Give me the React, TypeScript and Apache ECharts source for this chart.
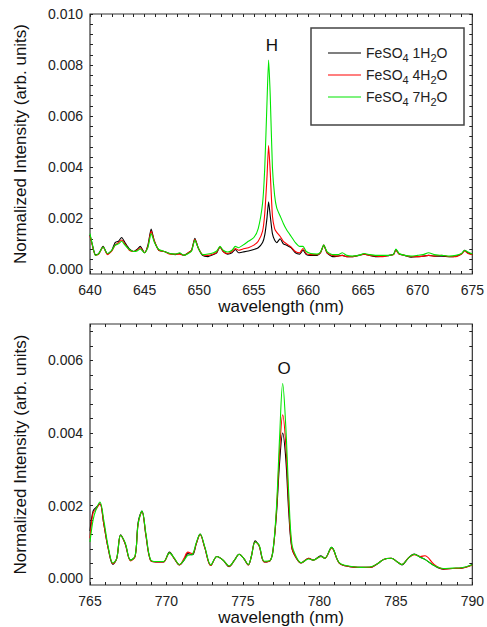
import React, { useEffect, useRef } from "react";
import * as echarts from "echarts";

// ---------- Top panel (H line) ----------
const topWavelengths = [
  640.0, 640.2, 640.5, 640.8, 641.2, 641.6, 642.0, 642.3, 642.6, 642.9,
  643.2, 643.6, 644.0, 644.3, 644.6, 645.0, 645.3, 645.6, 645.9, 646.3,
  646.8, 647.3, 647.8, 648.2, 648.6, 649.0, 649.3, 649.6, 649.9, 650.3,
  650.8, 651.3, 651.6, 651.9, 652.2, 652.6, 653.0, 653.3, 653.6, 654.0,
  654.5, 655.0, 655.4, 655.8, 656.0, 656.2, 656.35, 656.5, 656.7, 656.9,
  657.1, 657.4, 657.7, 658.0, 658.4, 658.8, 659.2, 659.5, 659.8, 660.2,
  660.8, 661.1, 661.4, 661.7, 662.2, 662.7, 663.1, 663.5, 664.0, 664.6,
  665.1, 665.6, 666.2, 666.8, 667.4, 667.8, 668.0, 668.3, 668.8, 669.4,
  670.0, 670.5, 671.0, 671.5, 672.2, 672.9, 673.5, 674.0, 674.3, 674.6,
  675.0,
];
const topMono = [
  0.00135, 0.0010, 0.00058, 0.00062, 0.0009, 0.0006, 0.00075, 0.00105, 0.0011, 0.00125,
  0.00105, 0.0008, 0.0007, 0.00078, 0.0009, 0.00065, 0.00095, 0.00158, 0.0011, 0.00075,
  0.0007, 0.00062, 0.00058, 0.00062, 0.00055, 0.00065, 0.00075, 0.00122, 0.00085, 0.00055,
  0.0005, 0.00058, 0.00065, 0.00088, 0.0007, 0.0006, 0.00065, 0.00078, 0.00065, 0.00068,
  0.00072, 0.00078, 0.00085, 0.00105, 0.00135, 0.002, 0.00265, 0.0021, 0.0014, 0.00115,
  0.00105, 0.0012, 0.001, 0.00095, 0.00085, 0.00065, 0.0006, 0.00075, 0.00058, 0.00055,
  0.00055, 0.00065, 0.00095, 0.00065, 0.0005, 0.00052, 0.00055, 0.0005, 0.0005, 0.00055,
  0.0006, 0.00055, 0.0005, 0.00052, 0.00055, 0.0006, 0.00078, 0.0006, 0.00055, 0.00048,
  0.0005, 0.00052, 0.00055, 0.00052, 0.00052, 0.0005, 0.00052, 0.0006, 0.00075, 0.00065,
  0.00058,
];
const topTetra = [
  0.0013, 0.00095, 0.00055, 0.0006, 0.00088, 0.00058, 0.00072, 0.00095, 0.00105, 0.00115,
  0.001, 0.00075, 0.0007, 0.00075, 0.00085, 0.00065, 0.0009, 0.0015, 0.0011, 0.00075,
  0.0007, 0.0006, 0.0006, 0.0006, 0.00055, 0.00065, 0.00075, 0.00118, 0.00085, 0.00058,
  0.00055, 0.0006, 0.00068, 0.00088, 0.0007, 0.00062, 0.0007, 0.00082, 0.00075, 0.0008,
  0.00085, 0.00095, 0.0011, 0.0015, 0.0022, 0.0036, 0.00485, 0.0038, 0.0021, 0.0016,
  0.00145, 0.0013, 0.0011, 0.001, 0.00088, 0.0007, 0.00065, 0.00082, 0.00062, 0.00058,
  0.00058, 0.00065, 0.00095, 0.00065, 0.00055, 0.00052, 0.00055, 0.0005, 0.0005, 0.00055,
  0.0006, 0.00055, 0.00052, 0.0005, 0.00055, 0.00058, 0.00075, 0.0006, 0.00055, 0.0005,
  0.0005, 0.00052, 0.00055, 0.00052, 0.00055, 0.0005, 0.0005, 0.0006, 0.00072, 0.00062,
  0.00058,
];
const topHepta = [
  0.0014, 0.001, 0.00055, 0.00062, 0.00088, 0.00062, 0.00075, 0.00095, 0.001, 0.0011,
  0.00095, 0.00078, 0.0007, 0.00072, 0.0008, 0.00065, 0.00085, 0.0014, 0.00105, 0.00078,
  0.0007, 0.00062, 0.0006, 0.00065, 0.00055, 0.00062, 0.00072, 0.00115, 0.00085, 0.00058,
  0.0006, 0.00065, 0.00072, 0.0009, 0.00075, 0.00068, 0.00075, 0.0009, 0.00085, 0.00095,
  0.0011, 0.00125, 0.0016, 0.0026, 0.004, 0.0065, 0.0082, 0.0068, 0.004, 0.0029,
  0.0024, 0.0021, 0.0018, 0.00155, 0.0013, 0.00105, 0.0009, 0.0009, 0.0007, 0.00062,
  0.0006, 0.00068, 0.00095, 0.0007, 0.00058, 0.00058, 0.00065, 0.00055, 0.00052, 0.00055,
  0.00062, 0.00058, 0.00055, 0.00055, 0.00055, 0.0006, 0.0008, 0.00062, 0.00055, 0.00052,
  0.00055, 0.00058, 0.00065, 0.00058, 0.00055, 0.00052, 0.00055, 0.00062, 0.00075, 0.00068,
  0.0006,
];

// ---------- Bottom panel (O line) ----------
const botWavelengths = [
  765.0, 765.2, 765.4, 765.65, 765.9, 766.2, 766.5, 766.75, 767.0, 767.3,
  767.65, 767.95, 768.15, 768.4, 768.65, 768.95, 769.3, 769.8, 770.2, 770.5,
  770.85, 771.15, 771.4, 771.7, 771.95, 772.2, 772.5, 772.9, 773.3, 773.7,
  774.1, 774.45, 774.75, 775.05, 775.35, 775.55, 775.8, 776.05, 776.4, 776.8,
  777.0, 777.2, 777.4, 777.6, 777.8, 778.0, 778.2, 778.5, 778.8, 779.3,
  779.6, 780.1, 780.35, 780.8, 781.3, 782.0, 782.7, 783.3, 783.8, 784.2,
  784.7, 785.1, 785.4, 785.8, 786.2, 786.6, 786.9, 787.5, 788.1, 788.7,
  789.3, 790.0,
];
const botMono = [
  0.0013, 0.00185, 0.00195, 0.00205, 0.0015, 0.0008, 0.00038, 0.00055, 0.0012, 0.00095,
  0.0005, 0.0006, 0.00155, 0.00185, 0.0012, 0.0005, 0.00045, 0.00045, 0.00072, 0.00055,
  0.00037, 0.0005, 0.00068, 0.00065, 0.00095, 0.00122, 0.00085, 0.00035, 0.0006, 0.0005,
  0.00032, 0.0005, 0.00066, 0.00055, 0.00037, 0.0006, 0.00103, 0.0009, 0.00045, 0.0005,
  0.00088, 0.0018, 0.0032, 0.004, 0.0033, 0.0018, 0.00083, 0.00055, 0.00042, 0.00055,
  0.0005, 0.00062, 0.00055, 0.00085, 0.00042, 0.00032, 0.0003, 0.0003, 0.0004, 0.00052,
  0.00055, 0.00045, 0.00037, 0.00055, 0.00067, 0.00058, 0.00052, 0.00035, 0.00025, 0.00027,
  0.00028, 0.00038,
];
const botTetra = [
  0.0011, 0.0018, 0.0019, 0.00205, 0.0015, 0.0008, 0.0004, 0.00055, 0.00118, 0.00095,
  0.00048, 0.0006, 0.0015, 0.00183, 0.0012, 0.0005, 0.00045, 0.00045, 0.0007, 0.00055,
  0.00037, 0.00055, 0.00072, 0.00068, 0.00095, 0.0012, 0.00085, 0.00035, 0.0006, 0.0005,
  0.00033, 0.0005, 0.00066, 0.00055, 0.00037, 0.0006, 0.001, 0.0009, 0.00045, 0.0005,
  0.00088, 0.0019, 0.0035, 0.0045, 0.0037, 0.002, 0.00085, 0.00055, 0.00042, 0.00055,
  0.0005, 0.0006, 0.00055, 0.00083, 0.00042, 0.00032, 0.0003, 0.0003, 0.0004, 0.00052,
  0.00055, 0.00045, 0.00038, 0.00055, 0.00065, 0.0006, 0.00062, 0.00038, 0.00026, 0.00027,
  0.00028, 0.00036,
];
const botHepta = [
  0.001, 0.0016, 0.0019, 0.0021, 0.0016, 0.00085, 0.00042, 0.00055, 0.00118, 0.00098,
  0.0005, 0.00062, 0.0015, 0.00185, 0.00125, 0.00052, 0.00046, 0.00046, 0.0007, 0.00056,
  0.00038, 0.0005, 0.00063, 0.00066, 0.00098, 0.00122, 0.00088, 0.00037, 0.0006, 0.0005,
  0.00034, 0.0005, 0.00066, 0.00055, 0.00038, 0.0006, 0.001, 0.00092, 0.00047, 0.0005,
  0.0009, 0.002, 0.0039, 0.00536, 0.0042, 0.0023, 0.00095, 0.00058, 0.00043, 0.00053,
  0.0005, 0.0006, 0.00055, 0.00085, 0.00043, 0.00033, 0.0003, 0.00031, 0.0004, 0.00052,
  0.00055, 0.00045, 0.00038, 0.00055, 0.00066, 0.00058, 0.00052, 0.00035, 0.00027, 0.00028,
  0.00029, 0.00037,
];

// ---------- Axes / labels ----------
const topXLabels = [640, 645, 650, 655, 660, 665, 670, 675];
const botXLabels = [765, 770, 775, 780, 785, 790];
const topYLabels = [0, 0.002, 0.004, 0.006, 0.008, 0.01];
const botYLabels = [0, 0.002, 0.004, 0.006];
const seriesNames = ["FeSO4 1H2O", "FeSO4 4H2O", "FeSO4 7H2O"];
const seriesColors = ["#000000", "#ff0000", "#00e600"];
const legendRich: Record<string, string> = {
  "FeSO4 1H2O": "{n|FeSO}{s|4}{n| 1H}{s|2}{n|O}",
  "FeSO4 4H2O": "{n|FeSO}{s|4}{n| 4H}{s|2}{n|O}",
  "FeSO4 7H2O": "{n|FeSO}{s|4}{n| 7H}{s|2}{n|O}",
};

const FONT = "'Liberation Sans', Arial, Helvetica, sans-serif";

function range(a: number, b: number, step: number): number[] {
  const out: number[] = [];
  for (let v = a; v <= b + step * 1e-6; v += step) out.push(Math.round(v * 1e6) / 1e6);
  return out;
}

export default function App() {
  const ref = useRef<HTMLDivElement>(null);
  useEffect(() => {
    if (!ref.current) return;
    const chart = echarts.init(ref.current, undefined, { renderer: "svg" });

    const tick = (vals: number[]) => ({
      show: true,
      inside: true,
      length: 3,
      customValues: vals,
      lineStyle: { color: "#222", width: 1 },
    });
    const labelStyle = { fontSize: 14, color: "#222", fontFamily: FONT };

    const mkX = (gridIndex: number, min: number, max: number, labels: number[], bottom: boolean) => ({
      type: "value",
      gridIndex,
      min,
      max,
      position: bottom ? "bottom" : "top",
      axisLine: { show: false, onZero: false },
      axisTick: tick(range(min, max, 1)),
      splitLine: { show: false },
      axisLabel: bottom
        ? { show: true, customValues: labels, margin: 9, ...labelStyle, formatter: (v: number) => String(v) }
        : { show: false },
      name: bottom ? "wavelength (nm)" : "",
      nameLocation: "middle",
      nameGap: 24,
      nameTextStyle: { fontSize: 17, color: "#111", fontFamily: FONT },
    });
    const mkY = (gridIndex: number, min: number, max: number, labels: number[], left: boolean) => ({
      type: "value",
      gridIndex,
      min,
      max,
      position: left ? "left" : "right",
      axisLine: { show: false, onZero: false },
      axisTick: tick(range(0, max, 0.0004)),
      splitLine: { show: false },
      axisLabel: left
        ? { show: true, customValues: labels, margin: 7, ...labelStyle, formatter: (v: number) => v.toFixed(3) }
        : { show: false },
      name: left ? "Normalized Intensity (arb. units)" : "",
      nameLocation: "middle",
      nameGap: 61,
      nameTextStyle: { fontSize: 17, color: "#111", fontFamily: FONT },
    });

    const mkSeries = (xi: number, wl: number[], vals: number[], k: number, smooth: number) => ({
      type: "line",
      name: seriesNames[k],
      xAxisIndex: xi,
      yAxisIndex: xi,
      data: wl.map((w, i) => [w, vals[i]]),
      symbol: "none",
      showSymbol: false,
      smooth,
      lineStyle: { width: 1.1, color: seriesColors[k] },
      itemStyle: { color: seriesColors[k] },
      z: 2 + k,
    });

    const topMin = -0.00018;
    const botMin = -0.000185;

    chart.setOption({
      animation: false,
      backgroundColor: "#ffffff",
      grid: [
        { left: 90, top: 14, width: 384, height: 260, show: true, borderColor: "#333", borderWidth: 1.2, backgroundColor: "transparent" },
        { left: 90, top: 324, width: 384, height: 261, show: true, borderColor: "#333", borderWidth: 1.2, backgroundColor: "transparent" },
      ],
      xAxis: [
        mkX(0, 640, 675, topXLabels, true),
        mkX(0, 640, 675, topXLabels, false),
        mkX(1, 765, 790, botXLabels, true),
        mkX(1, 765, 790, botXLabels, false),
      ],
      yAxis: [
        mkY(0, topMin, 0.01, topYLabels, true),
        mkY(0, topMin, 0.01, topYLabels, false),
        mkY(1, botMin, 0.007, botYLabels, true),
        mkY(1, botMin, 0.007, botYLabels, false),
      ],
      legend: {
        orient: "vertical",
        left: 323,
        top: 41,
        icon: "rect",
        itemWidth: 33,
        itemHeight: 1.2,
        itemGap: 5,
        selectedMode: false,
        data: seriesNames,
        formatter: (name: string) => legendRich[name] || name,
        textStyle: {
          fontFamily: FONT,
          color: "#222",
          rich: {
            n: { fontSize: 14, lineHeight: 20, fontFamily: FONT, color: "#222" },
            s: { fontSize: 11, lineHeight: 11, verticalAlign: "bottom", fontFamily: FONT, color: "#222" },
          },
        },
      },
      graphic: [
        {
          type: "rect",
          shape: { x: 311, y: 28, width: 153, height: 97 },
          style: { fill: "none", stroke: "#444", lineWidth: 1.5 },
          z: 10,
        },
        {
          type: "text",
          x: 272,
          y: 45,
          style: { text: "H", fontSize: 17, fontFamily: FONT, fill: "#111", align: "center", verticalAlign: "middle" },
          z: 10,
        },
        {
          type: "text",
          x: 284,
          y: 368,
          style: { text: "O", fontSize: 17, fontFamily: FONT, fill: "#111", align: "center", verticalAlign: "middle" },
          z: 10,
        },
      ],
      series: [
        mkSeries(0, topWavelengths, topMono, 0, 0.2),
        mkSeries(0, topWavelengths, topTetra, 1, 0.2),
        mkSeries(0, topWavelengths, topHepta, 2, 0.2),
        mkSeries(2, botWavelengths, botMono, 0, 0.35),
        mkSeries(2, botWavelengths, botTetra, 1, 0.35),
        mkSeries(2, botWavelengths, botHepta, 2, 0.35),
      ],
    });
    return () => chart.dispose();
  }, []);

  return (
    <div
      ref={ref}
      style={{ position: "absolute", left: 0, top: 0, width: 487, height: 627, background: "#fff" }}
    />
  );
}
